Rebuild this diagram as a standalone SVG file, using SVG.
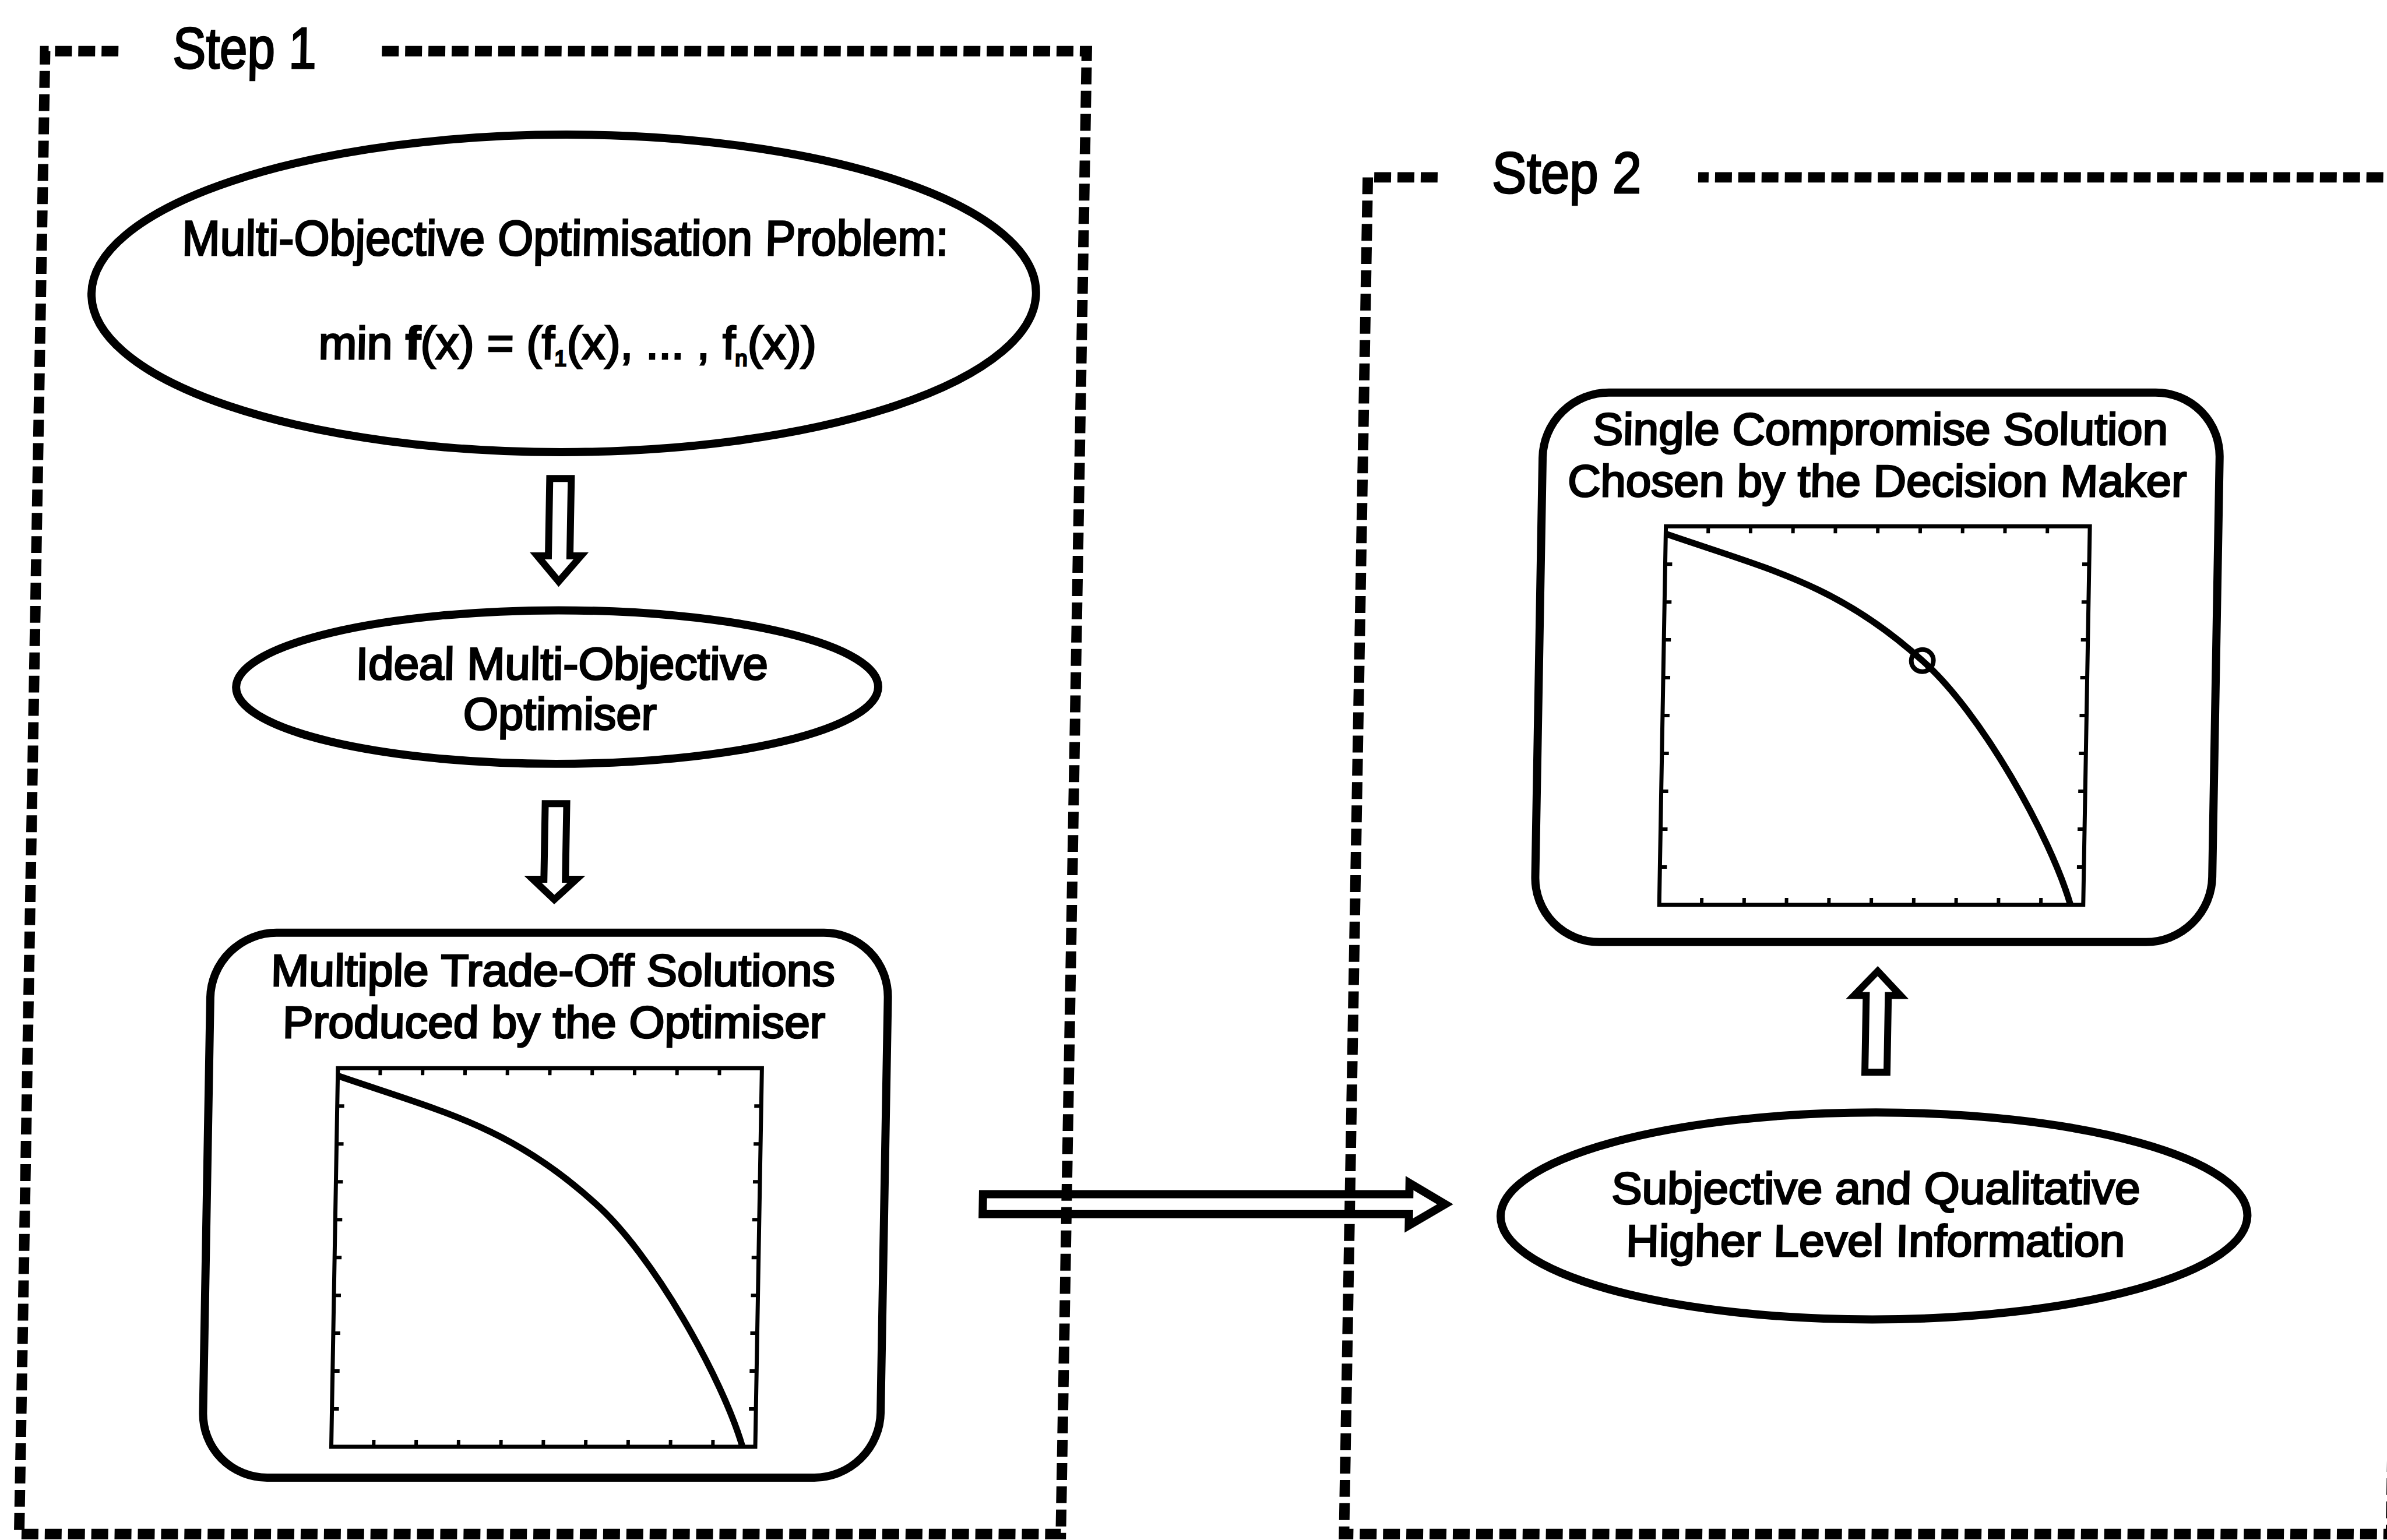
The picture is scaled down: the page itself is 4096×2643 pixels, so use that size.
<svg xmlns="http://www.w3.org/2000/svg" xmlns:xlink="http://www.w3.org/1999/xlink" width="4096" height="2643" viewBox="0 0 4096 2643">
<style>
.frame{fill:none;stroke:#000;stroke-width:18;stroke-dasharray:29 11}
.node{fill:none;stroke:#000;stroke-width:14}
.arrow{fill:none;stroke:#000;stroke-width:12;stroke-linejoin:miter;stroke-miterlimit:6}
.lbl{font-family:"Liberation Sans",Arial,Helvetica,sans-serif;fill:#000;stroke:#000;stroke-width:3;text-anchor:middle}
.ax{fill:none;stroke:#000;stroke-width:7}
.tick{fill:none;stroke:#000;stroke-width:6}
.curve{fill:none;stroke:#000;stroke-width:11}
</style>
<defs>
<g id="plot">
<rect class="ax" x="0" y="0" width="729" height="651"/>
<path class="tick" d="M72.9 0v12M145.8 0v12M218.7 0v12M291.6 0v12M364.5 0v12M437.4 0v12M510.3 0v12M583.2 0v12M656.1 0v12M72.9 651v-12M145.8 651v-12M218.7 651v-12M291.6 651v-12M364.5 651v-12M437.4 651v-12M510.3 651v-12M583.2 651v-12M656.1 651v-12M0 65.1h12M0 130.2h12M0 195.3h12M0 260.4h12M0 325.5h12M0 390.6h12M0 455.7h12M0 520.8h12M0 585.9h12M729 65.1h-12M729 130.2h-12M729 195.3h-12M729 260.4h-12M729 325.5h-12M729 390.6h-12M729 455.7h-12M729 520.8h-12M729 585.9h-12"/>
<path class="curve" d="M0 13C182 75 299 101 445 231C547 319 671 534 707 651"/>
</g>
</defs>
<rect width="4096" height="2643" fill="#fff"/>
<g transform="scale(0.998)">
<g transform="matrix(1,0,-0.0175,1,23.15,0)">
<g id="step1">
<path class="frame" d="M182 88H56V2638H1847V88H625"/>
<text class="lbl" x="399" y="117" font-size="100" textLength="247" lengthAdjust="spacingAndGlyphs">Step 1</text>
</g>
<g id="step2">
<path class="frame" d="M2454 305H2334V2638H4134V305H2902"/>
<text class="lbl" x="2676" y="332" font-size="100" textLength="257" lengthAdjust="spacingAndGlyphs">Step 2</text>
</g>
<g id="n-problem">
<ellipse class="node" cx="955" cy="504.5" rx="812" ry="273"/>
<text class="lbl" x="956" y="439" font-size="85" textLength="1318" lengthAdjust="spacingAndGlyphs">Multi-Objective Optimisation Problem:</text>
<text class="lbl" x="963" y="617" font-size="79">min <tspan font-weight="bold">f</tspan>(x) = (f<tspan font-size="38" baseline-shift="-12">1</tspan>(x), ... , f<tspan font-size="38" baseline-shift="-12">n</tspan>(x))</text>
</g>
<g id="n-optimiser">
<ellipse class="node" cx="955.5" cy="1181.5" rx="552" ry="132"/>
<text class="lbl" x="963" y="1168" font-size="78" textLength="709" lengthAdjust="spacingAndGlyphs">Ideal Multi-Objective</text>
<text class="lbl" x="961" y="1255" font-size="78" textLength="332" lengthAdjust="spacingAndGlyphs">Optimiser</text>
</g>
<g id="n-tradeoffs">
<rect class="node" x="368.5" y="1604" width="1165" height="937" rx="112" ry="112"/>
<text class="lbl" x="957" y="1695" font-size="77" textLength="970" lengthAdjust="spacingAndGlyphs">Multiple Trade-Off Solutions</text>
<text class="lbl" x="960" y="1785" font-size="77" textLength="933" lengthAdjust="spacingAndGlyphs">Produced by the Optimiser</text>
<use xlink:href="#plot" x="590" y="1837"/>
</g>
<g id="n-compromise">
<rect class="node" x="2643" y="675" width="1164" height="945" rx="112" ry="112"/>
<text class="lbl" x="3223" y="765" font-size="77" textLength="989" lengthAdjust="spacingAndGlyphs">Single Compromise Solution</text>
<text class="lbl" x="3219" y="854" font-size="77" textLength="1064" lengthAdjust="spacingAndGlyphs">Chosen by the Decision Maker</text>
<use xlink:href="#plot" x="2857" y="905"/>
<circle cx="3302" cy="1136" r="19" fill="none" stroke="#000" stroke-width="8"/>
</g>
<g id="n-info">
<ellipse class="node" cx="3235.6" cy="2091" rx="642" ry="178"/>
<text class="lbl" x="3238" y="2070" font-size="77" textLength="909" lengthAdjust="spacingAndGlyphs">Subjective and Qualitative</text>
<text class="lbl" x="3239" y="2160" font-size="77" textLength="858" lengthAdjust="spacingAndGlyphs">Higher Level Information</text>
</g>
<g id="connectors">
<polygon class="arrow" points="936.5,823 973.5,823 973.5,956 992.5,956 955,1000 917.5,956 936.5,956"/>
<polygon class="arrow" points="938.5,1382 975.5,1382 975.5,1512 994.5,1512 957,1547 919.5,1512 938.5,1512"/>
<polygon class="arrow" points="1703,2053.5 2436,2053.5 2436,2034.5 2498,2071 2436,2107.5 2436,2088 1703,2088" style="stroke-width:14"/>
<polygon class="arrow" points="3215.6,1844 3253.6,1844 3253.6,1712 3274.6,1712 3234.6,1670 3194.6,1712 3215.6,1712"/>
</g>
</g>
</g>
</svg>
